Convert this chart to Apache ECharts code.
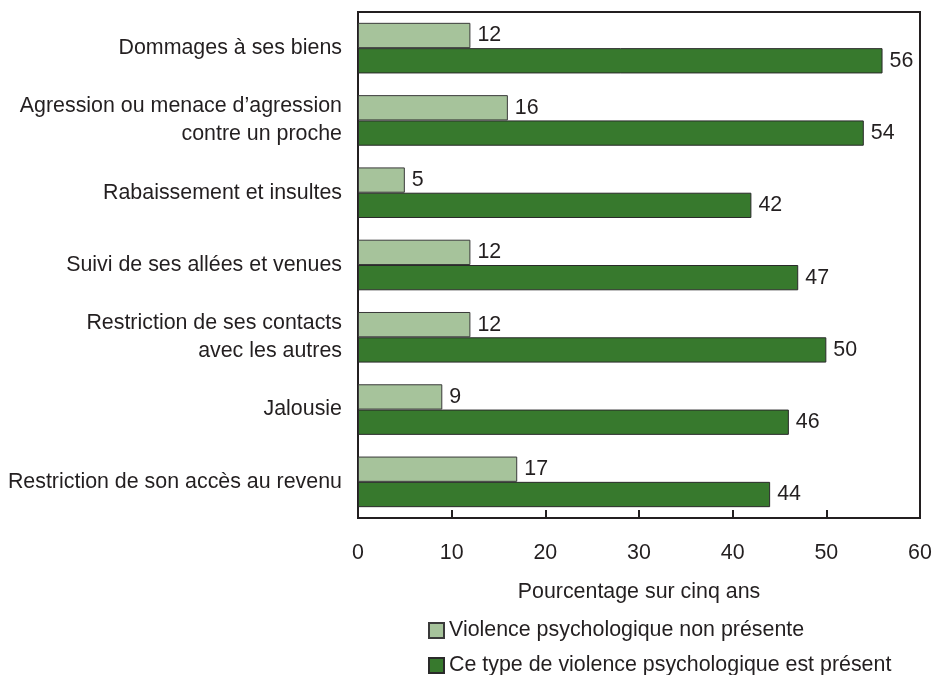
<!DOCTYPE html>
<html>
<head>
<meta charset="utf-8">
<script src="https://cdn.jsdelivr.net/npm/echarts@6/dist/echarts.min.js"></script>
<style>
html, body { margin: 0; padding: 0; background: #fff; }
#chart { width: 932px; height: 675px; }
</style>
</head>
<body>
<div id="chart"></div>
<script>
var categories = [
    'Dommages à ses biens',
    'Agression ou menace d\u2019agression\ncontre un proche',
    'Rabaissement et insultes',
    'Suivi de ses allées et venues',
    'Restriction de ses contacts\navec les autres',
    'Jalousie',
    'Restriction de son accès au revenu'
];
var nonPresente = [12, 16, 5, 12, 12, 9, 17];
var present = [56, 54, 42, 47, 50, 46, 44];
var seriesNames = ['Violence psychologique non présente', 'Ce type de violence psychologique est présent'];
var xTicks = [0, 60, 10]; // min, max, interval

var textColor = '#231f20';
var fontFamily = 'Liberation Sans, Arial, sans-serif';
var fontSize = 21.4;

var chart = echarts.init(document.getElementById('chart'));

var labelStyle = {
    show: true,
    position: 'right',
    distance: 7,
    color: textColor,
    fontSize: fontSize,
    fontFamily: fontFamily
};

// one legend per line, stacked
function makeLegend(name, top) {
    return {
        orient: 'vertical',
        left: 428,
        top: top,
        padding: 0,
        itemWidth: 15,
        itemHeight: 15,
        itemGap: 6,
        icon: 'rect',
        textStyle: { color: textColor, fontSize: fontSize, fontFamily: fontFamily },
        data: [name]
    };
}

var option = {
    animation: false,
    grid: {
        left: 358, right: 12, top: 12, bottom: 157,
        outerBoundsMode: 'none',
        containLabel: false,
        show: true,
        borderColor: '#231f20',
        borderWidth: 2
    },
    legend: [
        makeLegend(seriesNames[0], 620),
        makeLegend(seriesNames[1], 655)
    ],
    xAxis: {
        type: 'value',
        min: xTicks[0],
        max: xTicks[1],
        interval: xTicks[2],
        name: 'Pourcentage sur cinq ans',
        nameLocation: 'middle',
        nameGap: 64,
        nameTextStyle: { color: textColor, fontSize: fontSize, fontFamily: fontFamily },
        axisLine: { show: true, lineStyle: { color: '#231f20', width: 2 } },
        axisTick: { show: true, inside: true, length: 8, lineStyle: { color: '#231f20', width: 2 } },
        axisLabel: { color: textColor, fontSize: fontSize, fontFamily: fontFamily, margin: 25 },
        splitLine: { show: false }
    },
    yAxis: {
        type: 'category',
        inverse: true,
        data: categories,
        axisLine: { show: true, lineStyle: { color: '#231f20', width: 2 } },
        axisTick: { show: false },
        axisLabel: {
            color: textColor, fontSize: fontSize, fontFamily: fontFamily,
            margin: 16, lineHeight: 28, align: 'right'
        }
    },
    series: [
        {
            name: seriesNames[0],
            type: 'bar',
            data: nonPresente,
            barGap: '0%',
            barCategoryGap: '30%',
            itemStyle: { color: '#a6c39b', borderColor: '#3a3a3a', borderWidth: 1 },
            label: labelStyle
        },
        {
            name: seriesNames[1],
            type: 'bar',
            data: present,
            barGap: '0%',
            barCategoryGap: '30%',
            itemStyle: { color: '#37792d', borderColor: '#2a2a2a', borderWidth: 1 },
            label: labelStyle
        }
    ]
};

chart.setOption(option);
</script>
</body>
</html>
